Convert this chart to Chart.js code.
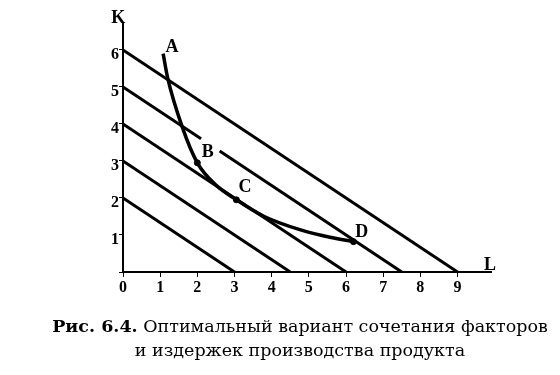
<!DOCTYPE html>
<html>
<head>
<meta charset="utf-8">
<script src="https://cdn.jsdelivr.net/npm/chart.js@4/dist/chart.umd.min.js"></script>
<style>
  body { margin: 0; background: #fff; }
  #wrap { position: relative; width: 560px; height: 375px; }
  #caption {
    position: absolute; left: 0; top: 314px; width: 600px;
    text-align: center; font-family: "DejaVu Serif", serif;
    font-size: 17.5px; line-height: 24px; color: #000;
  }
</style>
</head>
<body>
<div id="wrap">
  <canvas id="canvas" width="560" height="375"></canvas>
  <div id="caption"><b>Рис. 6.4.</b> Оптимальный вариант сочетания факторов<br>и издержек производства продукта</div>
</div>
<script>
'use strict';

// budget lines (L, K endpoints)
const budget1 = [{ x: 0, y: 2 }, { x: 3, y: 0 }];
const budget2 = [{ x: 0, y: 3 }, { x: 4.5, y: 0 }];
const budget3 = [{ x: 0, y: 4 }, { x: 6, y: 0 }];
const budget4 = [{ x: 0, y: 5 }, { x: 2.1, y: 3.6 }, { x: 2.3, y: null }, { x: 2.6, y: 3.27 }, { x: 7.5, y: 0 }];
const budget5 = [{ x: 0, y: 6 }, { x: 9, y: 0 }];

// isoquant A-B-C-D
const isoL = [1.08, 1.2, 1.6, 2.0, 2.5, 3.05, 3.8, 4.8, 5.6, 6.2];
const isoK = [5.9, 5.25, 3.9, 2.95, 2.35, 1.95, 1.5, 1.13, 0.93, 0.82];

// marked points B, C, D
const markL = [2.0, 3.05, 6.2];
const markK = [2.95, 1.95, 0.82];

// letters
const letters = ['A', 'B', 'C', 'D', 'K', 'L'];
const letterL = [1.32, 2.28, 3.28, 6.42, -0.13, 9.87];
const letterK = [6.08, 3.24, 2.3, 1.08, 6.86, 0.19];

const budgetStyle = {
  borderColor: '#000',
  borderWidth: 3,
  pointRadius: 0,
  fill: false,
  spanGaps: false,
};

const lettersPlugin = {
  id: 'letters',
  afterDatasetsDraw(chart) {
    const { ctx, scales } = chart;
    ctx.save();
    ctx.fillStyle = '#000';
    ctx.font = 'bold 18px "Liberation Serif", serif';
    ctx.textAlign = 'center';
    ctx.textBaseline = 'middle';
    letters.forEach((t, i) => {
      ctx.fillText(t, scales.x.getPixelForValue(letterL[i]), scales.y.getPixelForValue(letterK[i]));
    });
    ctx.restore();
  },
};

const tickFont = { family: '"Liberation Serif", serif', size: 16, weight: 'bold' };

new Chart(document.getElementById('canvas').getContext('2d'), {
  type: 'line',
  data: {
    datasets: [
      { ...budgetStyle, data: budget1 },
      { ...budgetStyle, data: budget2 },
      { ...budgetStyle, data: budget3 },
      { ...budgetStyle, data: budget4 },
      { ...budgetStyle, data: budget5 },
      {
        data: isoL.map((l, i) => ({ x: l, y: isoK[i] })),
        borderColor: '#000',
        borderWidth: 3.5,
        pointRadius: 0,
        cubicInterpolationMode: 'monotone',
      },
      {
        data: markL.map((l, i) => ({ x: l, y: markK[i] })),
        showLine: false,
        pointRadius: 3,
        pointBackgroundColor: '#000',
        pointBorderColor: '#000',
      },
    ],
  },
  options: {
    responsive: false,
    animation: false,
    layout: { padding: { top: 24, right: 69, left: 0, bottom: 0 } },
    plugins: { legend: false, tooltip: false, title: false },
    scales: {
      x: {
        type: 'linear',
        min: 0,
        max: 9.9,
        afterFit(scale) { scale.height = 103; },
        border: { color: '#000', width: 2 },
        grid: { drawOnChartArea: false, color: '#000', tickLength: 5 },
        ticks: { stepSize: 1, includeBounds: false, color: '#000', font: tickFont, padding: 1, maxRotation: 0 },
      },
      y: {
        type: 'linear',
        min: 0,
        max: 6.7,
        afterFit(scale) { scale.width = 123; },
        border: { color: '#000', width: 2 },
        grid: { drawOnChartArea: false, color: '#000', tickLength: 4 },
        ticks: {
          stepSize: 1,
          includeBounds: false,
          color: '#000',
          font: tickFont,
          padding: 0,
          labelOffset: 5,
          callback: (v) => (v === 0 ? '' : v),
        },
      },
    },
  },
  plugins: [lettersPlugin],
});
</script>
</body>
</html>
